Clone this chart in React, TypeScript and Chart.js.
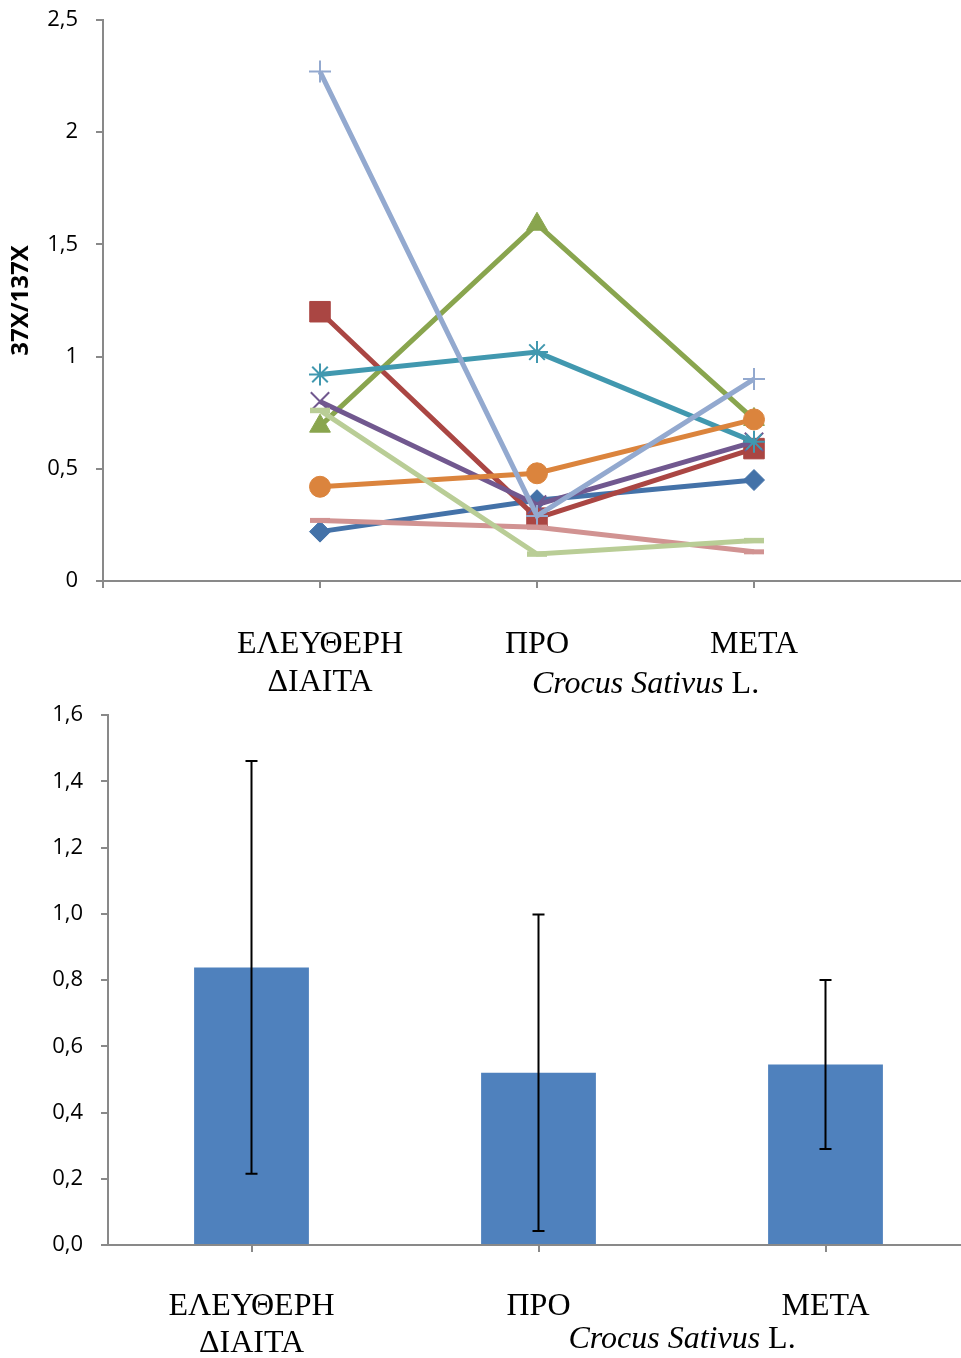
import React, { useEffect, useRef } from 'react';
import { Chart, registerables } from 'chart.js';

Chart.register(...registerables);

// ---------- DATA ----------
// Top chart (individual subjects): categories
const lineCategories: (string | string[])[] = ['', ['ΕΛΕΥΘΕΡΗ', 'ΔΙΑΙΤΑ'], 'ΠΡΟ', 'ΜΕΤΑ', ''];
const lineYTicks = [0, 0.5, 1, 1.5, 2, 2.5];
const subject1 = [0.22, 0.36, 0.45];
const subject2 = [1.2, 0.28, 0.59];
const subject3 = [0.69, 1.59, 0.72];
const subject4 = [0.8, 0.34, 0.62];
const subject5 = [0.92, 1.02, 0.62];
const subject6 = [0.42, 0.48, 0.72];
const subject7 = [2.27, 0.29, 0.9];
const subject8 = [0.27, 0.24, 0.13];
const subject9 = [0.76, 0.12, 0.18];
const subjects = [subject1, subject2, subject3, subject4, subject5, subject6, subject7, subject8, subject9];

// Bottom chart (means with error bars)
const barCategories: (string | string[])[] = [['ΕΛΕΥΘΕΡΗ', 'ΔΙΑΙΤΑ'], 'ΠΡΟ', 'ΜΕΤΑ'];
const barMeans = [0.838, 0.52, 0.545];
const barErrors = [0.623, 0.478, 0.255];
const barYTicks = [0, 0.2, 0.4, 0.6, 0.8, 1.0, 1.2, 1.4, 1.6];

const yTitle = '37X/137X';
const captionItalic = 'Crocus Sativus';
const captionPlain = ' L.';

// ---------- STYLES ----------
const seriesStyles = [
  { color: '#4472A8', point: 'rectRot', radius: 10.5, bw: 1 },
  { color: '#AA4643', point: 'rect', radius: 14.5, bw: 1 },
  { color: '#89A54E', point: 'triangle', radius: 12, bw: 1 },
  { color: '#71588F', point: 'crossRot', radius: 13, bw: 2 },
  { color: '#4198AF', point: 'star', radius: 11, bw: 2 },
  { color: '#DB843D', point: 'circle', radius: 10.5, bw: 1 },
  { color: '#93A9CF', point: 'cross', radius: 11, bw: 2 },
  { color: '#D19392', point: 'line', radius: 10, bw: 5 },
  { color: '#B9CD96', point: 'line', radius: 10, bw: 5.5 },
];

const AXIS = '#898989';
const SERIF = "'Liberation Serif', 'Times New Roman', serif";
const SANS = "'Open Sans', 'DejaVu Sans', sans-serif";
const LABEL_SIZE = 32;

function captionPlugin(id: string, y: number) {
  return {
    id,
    afterDraw(chart: any) {
      const ctx = chart.ctx;
      const xs = chart.scales.x;
      const labels = chart.data.labels as any[];
      const iPro = labels.indexOf('ΠΡΟ');
      const iMeta = labels.indexOf('ΜΕΤΑ');
      const cx = (xs.getPixelForValue(iPro) + xs.getPixelForValue(iMeta)) / 2;
      ctx.save();
      ctx.fillStyle = '#000';
      ctx.textBaseline = 'middle';
      ctx.font = `italic ${LABEL_SIZE}px ${SERIF}`;
      const w1 = ctx.measureText(captionItalic).width;
      ctx.font = `${LABEL_SIZE}px ${SERIF}`;
      const w2 = ctx.measureText(captionPlain).width;
      const start = cx - (w1 + w2) / 2;
      ctx.textAlign = 'left';
      ctx.font = `italic ${LABEL_SIZE}px ${SERIF}`;
      ctx.fillText(captionItalic, start, y);
      ctx.font = `${LABEL_SIZE}px ${SERIF}`;
      ctx.fillText(captionPlain, start + w1, y);
      ctx.restore();
    },
  };
}

const errorBarPlugin = {
  id: 'errorBars',
  afterDatasetsDraw(chart: any) {
    const ctx = chart.ctx;
    const ys = chart.scales.y;
    const meta = chart.getDatasetMeta(0);
    ctx.save();
    ctx.strokeStyle = '#000';
    ctx.lineWidth = 2;
    meta.data.forEach((el: any, i: number) => {
      const x = el.x;
      const top = ys.getPixelForValue(barMeans[i] + barErrors[i]);
      const bot = ys.getPixelForValue(barMeans[i] - barErrors[i]);
      ctx.beginPath();
      ctx.moveTo(x, top);
      ctx.lineTo(x, bot);
      ctx.moveTo(x - 6, top);
      ctx.lineTo(x + 6, top);
      ctx.moveTo(x - 6, bot);
      ctx.lineTo(x + 6, bot);
      ctx.stroke();
    });
    ctx.restore();
  },
};

function fitX(h: number) {
  return (s: any) => {
    s.height = h;
    s.paddingLeft = 0;
    s.paddingRight = 0;
  };
}
function fitY(w: number) {
  return (s: any) => {
    s.width = w;
    s.paddingTop = 0;
    s.paddingBottom = 0;
  };
}

function LineChart() {
  const ref = useRef<HTMLCanvasElement>(null);
  useEffect(() => {
    if (!ref.current) return;
    const datasets = subjects.map((vals, i) => {
      const st = seriesStyles[i];
      return {
        label: `S${i + 1}`,
        data: [null, ...vals, null],
        borderColor: st.color,
        backgroundColor: st.color,
        borderWidth: 5,
        pointStyle: st.point as any,
        pointRadius: st.radius,
        pointBackgroundColor: st.color,
        pointBorderColor: st.color,
        pointBorderWidth: st.bw,
        tension: 0,
        spanGaps: false,
        clip: false as any,
        order: subjects.length - i,
      };
    });
    const chart = new Chart(ref.current, {
      type: 'line',
      data: { labels: lineCategories as any, datasets: datasets as any },
      options: {
        responsive: false,
        animation: false,
        layout: { autoPadding: false, padding: { top: 20, left: 0, right: 0, bottom: 0 } },
        plugins: { legend: { display: false }, tooltip: { enabled: false } },
        scales: {
          x: {
            type: 'category',
            offset: false,
            grid: { drawOnChartArea: false, drawTicks: true, tickLength: 7, color: AXIS, lineWidth: 2 },
            border: { color: AXIS, width: 2 },
            ticks: {
              autoSkip: false,
              maxRotation: 0,
              minRotation: 0,
              color: '#000',
              padding: 37,
              font: { family: SERIF, size: LABEL_SIZE, lineHeight: 1.2 },
            },
            afterFit: fitX(119),
          },
          y: {
            min: 0,
            max: 2.5,
            afterBuildTicks: (s: any) => { s.ticks = lineYTicks.map((v) => ({ value: v })); },
            grid: { drawOnChartArea: false, drawTicks: true, tickLength: 7, color: AXIS, lineWidth: 2 },
            border: { color: AXIS, width: 2 },
            ticks: {
              color: '#000',
              padding: 18,
              font: { family: SANS, size: 22 },
              callback: (v: any) => String(Number(v)).replace('.', ','),
            },
            title: {
              display: true,
              text: yTitle,
              color: '#000',
              font: { family: SANS, size: 24, weight: 'bold' },
              padding: { top: 7, bottom: 0 },
            },
            afterFit: fitY(103),
          },
        },
      },
      plugins: [captionPlugin('captionTop', 685)],
    });
    return () => chart.destroy();
  }, []);
  return <canvas ref={ref} width={971} height={700} style={{ display: 'block' }} />;
}

function BarChart() {
  const ref = useRef<HTMLCanvasElement>(null);
  useEffect(() => {
    if (!ref.current) return;
    const chart = new Chart(ref.current, {
      type: 'bar',
      data: {
        labels: barCategories as any,
        datasets: [
          {
            label: 'mean',
            data: barMeans,
            backgroundColor: '#4F81BD',
            borderWidth: 0,
            barPercentage: 0.4,
            categoryPercentage: 1,
          },
        ],
      },
      options: {
        responsive: false,
        animation: false,
        layout: { autoPadding: false, padding: { top: 15, left: 0, right: 0, bottom: 0 } },
        plugins: { legend: { display: false }, tooltip: { enabled: false } },
        scales: {
          x: {
            type: 'category',
            offset: true,
            grid: { offset: false, drawOnChartArea: false, drawTicks: true, tickLength: 7, color: AXIS, lineWidth: 2 },
            border: { color: AXIS, width: 2 },
            ticks: {
              autoSkip: false,
              maxRotation: 0,
              minRotation: 0,
              color: '#000',
              padding: 36,
              font: { family: SERIF, size: LABEL_SIZE, lineHeight: 1.16 },
            },
            afterFit: fitX(113),
          },
          y: {
            min: 0,
            max: 1.6,
            afterBuildTicks: (s: any) => { s.ticks = barYTicks.map((v) => ({ value: v })); },
            grid: { drawOnChartArea: false, drawTicks: true, tickLength: 7, color: AXIS, lineWidth: 2 },
            border: { color: AXIS, width: 2 },
            ticks: {
              color: '#000',
              padding: 18,
              font: { family: SANS, size: 22 },
              callback: (v: any) => Number(v).toFixed(1).replace('.', ','),
            },
            afterFit: fitY(108),
          },
        },
      },
      plugins: [errorBarPlugin, captionPlugin('captionBottom', 640)],
    });
    return () => chart.destroy();
  }, []);
  return <canvas ref={ref} width={969} height={658} style={{ display: 'block' }} />;
}

export default function App() {
  return (
    <div>
      <div style={{ position: 'absolute', left: 0, top: 0, width: 961, height: 700, overflow: 'hidden', background: '#fff' }}>
        <LineChart />
      </div>
      <div style={{ position: 'absolute', left: 0, top: 700, width: 961, height: 658, overflow: 'hidden', background: '#fff' }}>
        <BarChart />
      </div>
    </div>
  );
}
